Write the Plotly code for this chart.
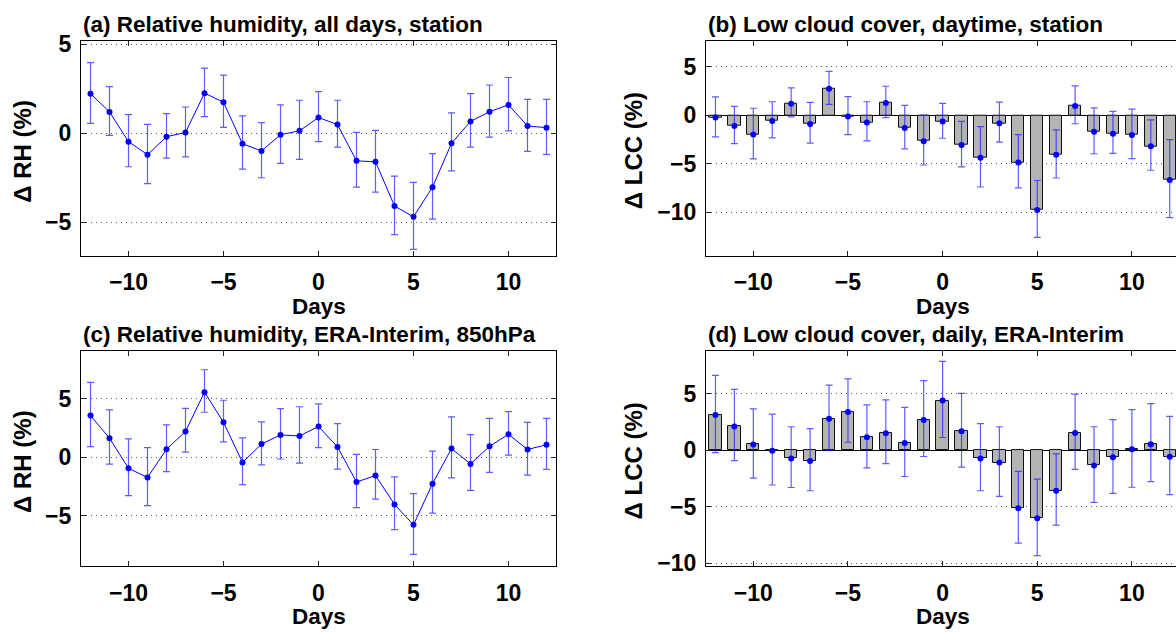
import plotly.graph_objects as go

days = [-12, -11, -10, -9, -8, -7, -6, -5, -4, -3, -2, -1, 0, 1, 2, 3, 4, 5, 6, 7, 8, 9, 10, 11, 12]

# (a) Relative humidity, all days, station
rh_st = [2.22, 1.19, -0.48, -1.21, -0.2, 0.04, 2.25, 1.74, -0.6, -1.0, -0.09, 0.13, 0.88, 0.48, -1.56, -1.61, -4.1, -4.71, -3.04, -0.57, 0.66, 1.21, 1.59, 0.40, 0.31]
rh_st_hi = [3.97, 2.62, 1.04, 0.49, 1.1, 1.47, 3.66, 3.26, 0.97, 0.59, 1.59, 1.85, 2.34, 1.85, 0.04, 0.15, -2.42, -2.77, -1.15, 1.14, 2.22, 2.71, 3.13, 1.9, 1.9]
rh_st_lo = [0.55, -0.13, -1.89, -2.84, -1.41, -1.34, 0.93, 0.33, -2.03, -2.51, -1.7, -1.48, -0.48, -0.79, -3.04, -3.32, -5.71, -6.54, -4.84, -2.12, -0.79, -0.22, 0.13, -1.03, -1.19]

# (b) Low cloud cover, daytime, station
lcc_st = [-0.23, -1.1, -1.97, -0.6, 1.2, -0.9, 2.73, -0.13, -0.73, 1.27, -1.3, -2.67, -0.63, -3.07, -4.37, -0.83, -4.87, -9.77, -4.07, 0.97, -1.7, -1.9, -2.03, -3.2, -6.67]
lcc_st_hi = [1.9, 0.93, 0.73, 1.4, 2.83, 1.33, 4.53, 1.93, 1.4, 3.0, 1.03, 0.03, 1.23, -0.63, -1.17, 1.37, -2.0, -6.73, -1.5, 3.03, 0.77, 0.4, 0.63, -0.47, -2.5]
lcc_st_lo = [-2.23, -2.93, -4.5, -2.33, -0.17, -2.87, 1.13, -2.0, -2.63, -0.23, -3.47, -5.13, -2.37, -5.33, -7.4, -2.77, -7.5, -12.6, -6.47, -0.87, -3.97, -3.93, -4.47, -5.67, -10.57]

# (c) Relative humidity, ERA-Interim, 850hPa
rh_era = [3.58, 1.64, -0.94, -1.72, 0.69, 2.22, 5.58, 3.0, -0.44, 1.14, 1.92, 1.83, 2.64, 0.89, -2.11, -1.56, -4.03, -5.78, -2.25, 0.75, -0.56, 0.94, 1.97, 0.67, 1.08]
rh_era_hi = [6.42, 4.06, 1.58, 0.83, 2.78, 4.19, 7.5, 4.89, 1.67, 3.03, 4.17, 4.33, 4.58, 2.89, 0.25, 0.67, -1.67, -3.11, 0.53, 3.47, 1.94, 3.33, 3.92, 3.0, 3.33]
rh_era_lo = [0.92, -0.58, -3.28, -4.14, -1.22, 0.44, 3.86, 1.33, -2.33, -0.64, -0.14, -0.5, 0.83, -1.0, -4.31, -3.58, -6.19, -8.31, -4.78, -1.75, -2.83, -1.28, 0.19, -1.53, -1.03]

# (d) Low cloud cover, daily, ERA-Interim
lcc_era = [3.09, 2.09, 0.49, -0.06, -0.74, -0.97, 2.77, 3.37, 1.14, 1.49, 0.63, 2.66, 4.37, 1.66, -0.74, -1.11, -5.14, -6.03, -3.6, 1.51, -1.37, -0.63, 0.06, 0.51, -0.6]
lcc_era_hi = [6.6, 5.37, 3.63, 3.17, 2.06, 1.89, 5.74, 6.29, 4.0, 4.43, 3.77, 6.14, 7.83, 5.0, 2.34, 2.06, -1.89, -2.57, -0.34, 4.94, 2.06, 2.69, 3.57, 4.11, 2.97]
lcc_era_lo = [-0.23, -0.94, -2.49, -3.09, -3.31, -3.6, -0.03, 0.69, -1.57, -1.2, -2.34, -0.57, 1.11, -1.51, -3.6, -4.09, -8.23, -9.34, -6.63, -1.71, -4.63, -3.83, -3.29, -2.8, -3.94]

titles = ["(a) Relative humidity, all days, station",
          "(b) Low cloud cover, daytime, station",
          "(c) Relative humidity, ERA-Interim, 850hPa",
          "(d) Low cloud cover, daily, ERA-Interim"]
ylabels = ["\u0394 RH (%)", "\u0394 LCC (%)", "\u0394 RH (%)", "\u0394 LCC (%)"]
xlabel = "Days"
x_ticks = [-10, -5, 0, 5, 10]
y_ticks = [[-5, 0, 5], [-10, -5, 0, 5], [-5, 0, 5], [-10, -5, 0, 5]]

W, H = 1176, 641
FONT = "Liberation Sans, Arial, sans-serif"
BLUE = "#0000ff"
ERRC = "rgba(30,30,255,0.72)"

# panel geometry in pixels (left, right, top, bottom)
panels = [
    (81, 556, 32.7, 254.3),
    (706, 1176, 32.7, 254.3),
    (81, 556, 352.5, 574),
    (706, 1176, 352.5, 574),
]
ylabel_offset = [58.5, 73, 58.5, 73]
xranges = [[-12.5, 12.5], [-12.5, 12.33], [-12.5, 12.5], [-12.5, 12.33]]
yranges = [[-6.9, 5.2], [-14.5, 7.7], [-9.3, 9.1], [-10.25, 8.75]]

series = [
    ("line", rh_st, rh_st_hi, rh_st_lo),
    ("bar", lcc_st, lcc_st_hi, lcc_st_lo),
    ("line", rh_era, rh_era_hi, rh_era_lo),
    ("bar", lcc_era, lcc_era_hi, lcc_era_lo),
]

fig = go.Figure()
annotations = []
for i, (kind, m, hi, lo) in enumerate(series):
    n = i + 1
    xa = "x" if n == 1 else f"x{n}"
    ya = "y" if n == 1 else f"y{n}"
    plus = [h - v for h, v in zip(hi, m)]
    minus = [v - l for v, l in zip(m, lo)]
    if kind == "bar":
        fig.add_trace(go.Bar(x=days, y=m, width=0.65, xaxis=xa, yaxis=ya,
                             marker=dict(color="#b4b4b4", line=dict(color="#111111", width=1)),
                             showlegend=False))
        fig.add_trace(go.Scatter(x=days, y=m, mode="markers", xaxis=xa, yaxis=ya,
                                 marker=dict(color=BLUE, size=6),
                                 error_y=dict(type="data", array=plus, arrayminus=minus,
                                              color=ERRC, thickness=1.2, width=3.5),
                                 showlegend=False))
    else:
        fig.add_trace(go.Scatter(x=days, y=m, mode="lines+markers", xaxis=xa, yaxis=ya,
                                 line=dict(color=BLUE, width=1),
                                 marker=dict(color=BLUE, size=6),
                                 error_y=dict(type="data", array=plus, arrayminus=minus,
                                              color=ERRC, thickness=1.2, width=3.5),
                                 showlegend=False))

    l, r, t, b = panels[i]
    xdom = [l / W, r / W]
    ydom = [1 - b / H, 1 - t / H]
    left_panel = (i % 2 == 0)
    xkey = "xaxis" if n == 1 else f"xaxis{n}"
    ykey = "yaxis" if n == 1 else f"yaxis{n}"
    fig.layout[xkey] = dict(domain=xdom, range=xranges[i], anchor=ya,
                            tickvals=x_ticks, ticks="inside", ticklen=5,
                            tickcolor="#222", showline=True, linecolor="black",
                            linewidth=1.2, mirror="ticks", showgrid=False,
                            zeroline=False, ticklabelstandoff=6,
                            tickfont=dict(family=FONT, size=23, color="black", weight="bold"))
    fig.layout[ykey] = dict(domain=ydom, range=yranges[i], anchor=xa,
                            tickvals=y_ticks[i], ticks="inside", ticklen=5,
                            tickcolor="#222", showline=True, linecolor="black",
                            linewidth=1.2, mirror=("ticks" if left_panel else False),
                            showgrid=True, gridcolor="#555555", griddash="1px,4px",
                            gridwidth=1,
                            zeroline=(kind == "bar"), zerolinecolor="black",
                            zerolinewidth=1.2, ticklabelstandoff=4,
                            tickfont=dict(family=FONT, size=23, color="black", weight="bold"))

    # panel title
    annotations.append(dict(text=titles[i], xref="paper", yref="paper",
                            x=l / W, y=1 - t / H, xanchor="left", yanchor="bottom",
                            yshift=2, showarrow=False,
                            font=dict(family=FONT, size=22.5, color="black", weight="bold")))
    # x label
    annotations.append(dict(text=xlabel, xref="paper", yref="paper",
                            x=(l + (r if left_panel else 1179)) / 2 / W, y=1 - (b + 52) / H,
                            xanchor="center", yanchor="middle", showarrow=False,
                            font=dict(family=FONT, size=22.5, color="black", weight="bold")))
    # y label
    annotations.append(dict(text=ylabels[i], xref="paper", yref="paper",
                            x=(l - ylabel_offset[i]) / W, y=1 - ((t + b) / 2 + 3) / H,
                            xanchor="center", yanchor="middle", textangle=-90,
                            showarrow=False,
                            font=dict(family=FONT, size=24, color="black", weight="bold")))

fig.update_layout(width=W, height=H, margin=dict(l=0, r=0, t=0, b=0),
                  plot_bgcolor="white", paper_bgcolor="white",
                  annotations=annotations, bargap=0)
fig.write_html("out.html", config={"displayModeBar": False},
               post_script="document.body.style.margin='0px';document.body.style.overflow='hidden';")
